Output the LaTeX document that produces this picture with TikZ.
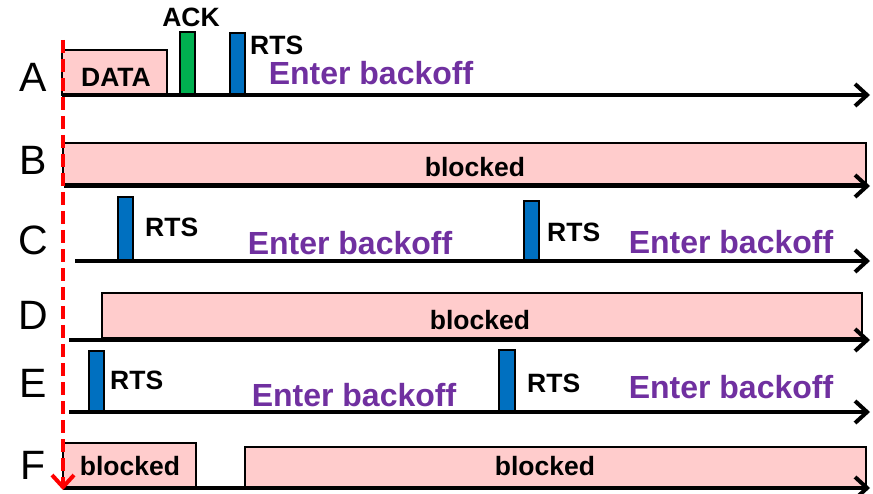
\documentclass[tikz,border=0pt]{standalone}
\usepackage{fontspec}
\setmainfont{Liberation Sans}
\usetikzlibrary{arrows.meta}
\definecolor{pinkc}{HTML}{FFCCCC}
\definecolor{ackgreen}{HTML}{00B050}
\definecolor{rtsblue}{HTML}{0070C0}
\definecolor{bopurple}{HTML}{7030A0}
\definecolor{redc}{HTML}{FF0000}
\begin{document}
\begin{tikzpicture}[x=1pt,y=-1pt,
  axis/.style={line width=4pt,-{Straight Barb[length=12pt,width=22pt]}},
  blk/.style={draw=black,line width=1.8pt,fill=pinkc},
  bar/.style={draw=black,line width=1.8pt},
  small/.style={inner sep=0pt,font=\fontsize{26.5}{30}\selectfont\bfseries},
  bo/.style={inner sep=0pt,text=bopurple,font=\fontsize{32}{36}\selectfont\bfseries},
  rowlab/.style={inner sep=0pt,font=\fontsize{41}{45}\selectfont}]
\useasboundingbox (0,0) rectangle (873,494);
% row labels
\node[rowlab] (lA) at (33,77) {A};
\node[rowlab] (lB) at (33,160) {B};
\node[rowlab] (lC) at (33,240) {C};
\node[rowlab] (lD) at (33,315) {D};
\node[rowlab] (lE) at (33,383) {E};
\node[rowlab] (lF) at (33,465) {F};
% axes
\coordinate (a0) at (62,95);  \coordinate (a1) at (870,95);
\coordinate (b0) at (64,186); \coordinate (b1) at (870,186);
\coordinate (c0) at (75,261); \coordinate (c1) at (870,261);
\coordinate (d0) at (69,340); \coordinate (d1) at (870,340);
\coordinate (e0) at (69,412); \coordinate (e1) at (870,412);
\coordinate (f0) at (63,488); \coordinate (f1) at (870,488);
% row A
\path[blk] (62,50) rectangle (167,95);
\node[small] (data) at (116,77) {DATA};
\path[bar,fill=ackgreen] (180,32) rectangle (195,95);
\node[small] (ack) at (191,17) {ACK};
\path[bar,fill=rtsblue] (230,33) rectangle (245,95);
\node[small,anchor=west] (rtsA) at (250,45) {RTS};
\node[bo] (boA) at (371,73) {Enter backoff};
\draw[axis] (a0) -- (a1);
% row B
\path[blk] (63,143) rectangle (866,184);
\node[small] (blkB) at (475,167) {blocked};
\draw[axis] (b0) -- (b1);
% row C
\path[bar,fill=rtsblue] (118,197) rectangle (133,261);
\node[small,anchor=west] (rtsC1) at (145,227) {RTS};
\node[bo] (boC1) at (350,243) {Enter backoff};
\path[bar,fill=rtsblue] (524,201) rectangle (539,261);
\node[small,anchor=west] (rtsC2) at (547,232) {RTS};
\node[bo] (boC2) at (731,242) {Enter backoff};
\draw[axis] (c0) -- (c1);
% row D
\path[blk] (102,293) rectangle (862,338);
\node[small] (blkD) at (480,320) {blocked};
\draw[axis] (d0) -- (d1);
% row E
\path[bar,fill=rtsblue] (89,351) rectangle (104,412);
\node[small,anchor=west] (rtsE1) at (110,380) {RTS};
\node[bo] (boE1) at (354,395) {Enter backoff};
\path[bar,fill=rtsblue] (499,350) rectangle (515,412);
\node[small,anchor=west] (rtsE2) at (527,383) {RTS};
\node[bo] (boE2) at (731,387) {Enter backoff};
\draw[axis] (e0) -- (e1);
% row F
\path[blk] (63,443) rectangle (196,487);
\node[small] (blkF1) at (130,466) {blocked};
\path[blk] (245,447) rectangle (866,487);
\node[small] (blkF2) at (545,466) {blocked};
\draw[axis] (f0) -- (f1);
% red dashed time marker
\coordinate (r0) at (63,40);
\coordinate (r1) at (63,490);
\draw[redc,line width=4pt,dash pattern=on 13pt off 6pt,-{Straight Barb[length=12pt,width=22pt]}] (r0) -- (r1);
\end{tikzpicture}
\end{document}
